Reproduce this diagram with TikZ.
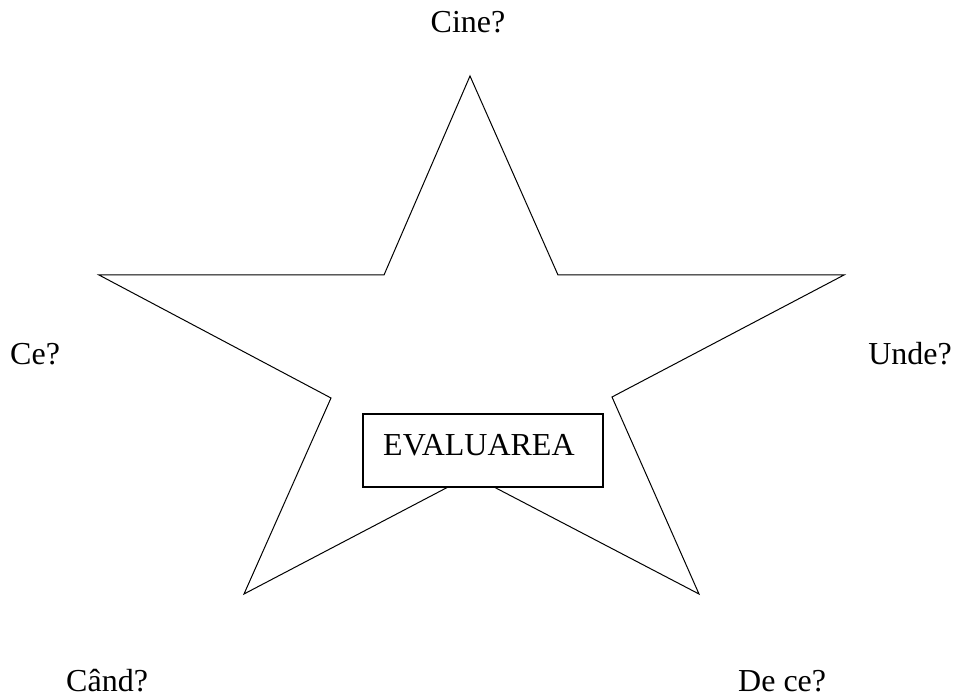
\documentclass[tikz,border=0pt]{standalone}
\usepackage{fontspec}
\setmainfont{Liberation Serif}
\begin{document}
\begin{tikzpicture}[x=1pt,y=-1pt,
  lbl/.style={inner sep=0pt,text depth=0pt,font=\fontsize{32}{36}\selectfont},
  boxstyle/.style={draw,line width=1.3pt,fill=white,inner sep=0pt,minimum width=240pt,minimum height=73pt}]
\useasboundingbox (0,0) rectangle (956,700);
% star
\draw[line width=1pt,line join=miter]
  (470,76) -- (558,275) -- (844,275) -- (612,397) -- (699,594) -- (471,475)
  -- (244,594) -- (331,398) -- (99,275) -- (384,275) -- cycle;
% central box
\node[boxstyle] (eval) at (483,450.5) {};
\node[lbl,anchor=base west] (evaltxt) at (383,455) {EVALUAREA};
% labels
\node[lbl,anchor=base] (cine) at (468,33) {Cine?};
\node[lbl,anchor=base west] (ce) at (10,365) {Ce?};
\node[lbl,anchor=base east] (unde) at (952,365) {Unde?};
\node[lbl,anchor=base west] (cand) at (66,691) {Când?};
\node[lbl,anchor=base west] (dece) at (738,691) {De ce?};
\end{tikzpicture}
\end{document}
